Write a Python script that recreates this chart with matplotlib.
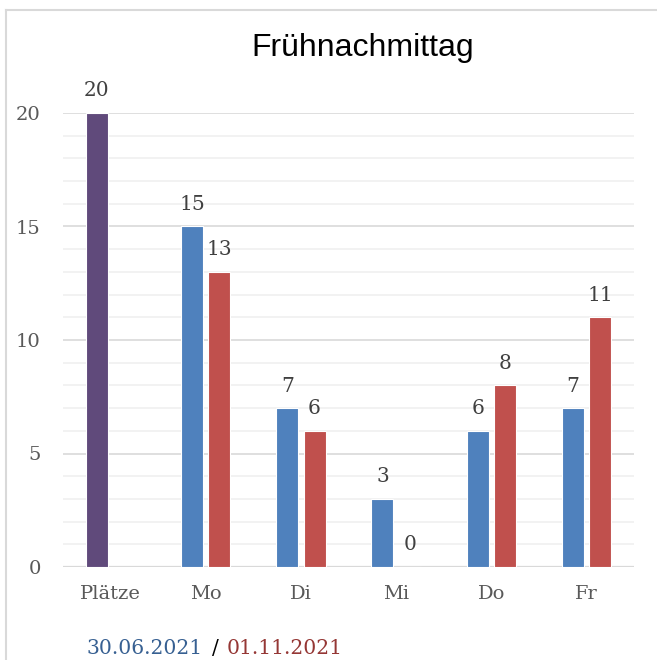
import numpy as np
import matplotlib.pyplot as plt
from matplotlib.lines import Line2D

# data
categories = ["Plätze", "Mo", "Di", "Mi", "Do", "Fr"]
places = [20]
series_a = [15, 7, 3, 6, 7]     # 30.06.2021
series_b = [13, 6, 0, 8, 11]    # 01.11.2021
y_ticks = [0, 5, 10, 15, 20]

PURPLE = "#604A7B"
BLUE = "#4F81BD"
RED = "#C0504D"
SERIF = ["DejaVu Serif"]

fig = plt.figure(figsize=(6.57, 6.60), dpi=100)
ax = fig.add_axes([63 / 657, 1 - 567 / 660, (634 - 63) / 657, (567 - 113) / 660])

width = 0.231
off = 0.143
x = np.arange(len(categories))

# minor / major gridlines
for v in range(1, 21):
    color = "#D9D9D9" if v % 5 == 0 else "#F0F0F0"
    ax.axhline(v, color=color, lw=1.2, zorder=0)
ax.axhline(0, color="#D9D9D9", lw=1.6, zorder=0)

b0 = ax.bar(x[:1] - off, places, width, color=PURPLE, edgecolor="white", lw=0.8, zorder=2)
b1 = ax.bar(x[1:] - off, series_a, width, color=BLUE, edgecolor="white", lw=0.8, zorder=2)
b2 = ax.bar(x[1:] + off, series_b, width, color=RED, edgecolor="white", lw=0.8, zorder=2)

for bars in (b0, b1, b2):
    ax.bar_label(bars, padding=9, fontsize=14.5, color="#404040", family=SERIF)

ax.set_xlim(-0.5, len(categories) - 0.5)
ax.set_ylim(0, 20)
ax.set_yticks(y_ticks)
ax.set_xticks(x)
ax.set_xticklabels(categories)
for lab in ax.get_xticklabels() + ax.get_yticklabels():
    lab.set_family(SERIF)
    lab.set_fontsize(14)
    lab.set_color("#595959")
ax.tick_params(length=0)
ax.tick_params(axis="x", pad=13)
ax.tick_params(axis="y", pad=16)
for s in ax.spines.values():
    s.set_visible(False)

fig.text(363 / 657, 1 - 48 / 660, "Frühnachmittag", ha="center", va="center",
         fontsize=23, family=["Liberation Sans", "DejaVu Sans"], color="black")

# footer with the two dates
fy = 1 - 648 / 660
fsize = 14.6
t1 = fig.text(87 / 657, fy, "30.06.2021", ha="left", va="center",
              fontsize=fsize, family=SERIF, color="#376092")
fig.canvas.draw()
bb = t1.get_window_extent()
t2 = fig.text((bb.x1 + 9) / 657, fy, "/", ha="left", va="center",
              fontsize=fsize, family=SERIF, color="black")
fig.canvas.draw()
bb = t2.get_window_extent()
fig.text((bb.x1 + 8) / 657, fy, "01.11.2021", ha="left", va="center",
         fontsize=fsize, family=SERIF, color="#953735")

# light frame around the chart
fig.add_artist(Line2D([6 / 657, 1], [1 - 10 / 660, 1 - 10 / 660], color="#D9D9D9", lw=1.5))
fig.add_artist(Line2D([6 / 657, 6 / 657], [0, 1 - 10 / 660], color="#D9D9D9", lw=1.5))

fig.savefig("out.png", dpi=100)
